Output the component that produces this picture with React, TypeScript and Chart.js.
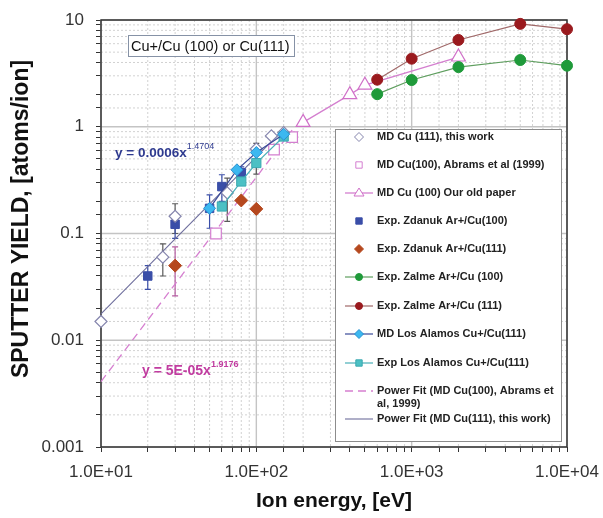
import React, { useEffect, useRef } from 'react';
import { Chart, registerables } from 'chart.js';

Chart.register(...registerables);

const FONT = "'Liberation Sans', Arial, Helvetica, sans-serif";

// ---- axis ticks ----
const xTickValues = [10, 100, 1000, 10000];
const xTickLabels = ['1.0E+01', '1.0E+02', '1.0E+03', '1.0E+04'];
const yTickValues = [0.001, 0.01, 0.1, 1, 10];
const yTickLabels = ['0.001', '0.01', '0.1', '1', '10'];

// ---- series ----
const md111E = [10, 25, 30, 65, 100, 125, 150];
const md111Y = [0.015, 0.06, 0.145, 0.24, 0.62, 0.82, 0.88];
const md111Lo = [null, 0.04, 0.1, 0.13, 0.36, null, null];
const md111Hi = [null, 0.08, 0.19, 0.33, 0.7, null, null];

const abramsE = [55, 130, 170];
const abramsY = [0.1, 0.61, 0.8];

const oldPaperE = [200, 400, 500, 2000];
const oldPaperY = [1.1, 2.0, 2.45, 4.5];

const zd100E = [20, 30, 50, 60, 80];
const zd100Y = [0.04, 0.122, 0.172, 0.275, 0.37];
const zd100Lo = [0.03, 0.09, 0.112, 0.2, 0.33];
const zd100Hi = [0.05, 0.15, 0.23, 0.355, 0.42];

const zd111E = [30, 80, 100];
const zd111Y = [0.05, 0.204, 0.17];
const zd111Lo = [0.026, null, null];
const zd111Hi = [0.075, null, null];

const zalme100E = [600, 1000, 2000, 5000, 10000];
const zalme100Y = [2.02, 2.74, 3.62, 4.22, 3.73];

const zalme111E = [600, 1000, 2000, 5000, 10000];
const zalme111Y = [2.76, 4.34, 6.5, 9.2, 8.2];

const mdLosAlamosE = [50, 75, 100, 150];
const mdLosAlamosY = [0.172, 0.395, 0.574, 0.85];

const expLosAlamosE = [60, 80, 100, 150];
const expLosAlamosY = [0.179, 0.307, 0.457, 0.81];

const fitAbramsE = [10, 170];
const fitAbramsY = [0.0041, 0.93];

const fit111E = [10, 150];
const fit111Y = [0.0177, 0.95];

const seriesLabels = [
  'MD Cu (111), this work',
  'MD Cu(100), Abrams et al (1999)',
  'MD Cu (100) Our old paper',
  'Exp. Zdanuk Ar+/Cu(100)',
  'Exp. Zdanuk Ar+/Cu(111)',
  'Exp. Zalme Ar+/Cu (100)',
  'Exp. Zalme Ar+/Cu (111)',
  'MD Los Alamos Cu+/Cu(111)',
  'Exp Los Alamos Cu+/Cu(111)',
  'Power Fit (MD Cu(100), Abrams et al, 1999)',
  'Power Fit (MD Cu(111), this work)',
];

const yAxisTitle = 'SPUTTER YIELD, [atoms/ion]';
const xAxisTitle = 'Ion energy, [eV]';
const annotationText = 'Cu+/Cu (100) or Cu(111)';
const eq111Text = 'y = 0.0006x';
const eq111Exp = '1.4704';
const eqAbramsText = 'y = 5E-05x';
const eqAbramsExp = '1.9176';

const pts = (xs: number[], ys: number[]) => xs.map((x, i) => ({ x, y: ys[i] }));

const isDecade = (v: number) => Math.abs(Math.log10(v) - Math.round(Math.log10(v))) < 1e-6;

function drawMarker(
  ctx: CanvasRenderingContext2D,
  style: string,
  x: number,
  y: number,
  r: number,
  fill: string,
  stroke: string,
  lw: number
) {
  ctx.save();
  ctx.beginPath();
  if (style === 'circle') {
    ctx.arc(x, y, r, 0, Math.PI * 2);
  } else if (style === 'rect') {
    const s = r * Math.SQRT1_2;
    ctx.rect(x - s, y - s, 2 * s, 2 * s);
  } else if (style === 'rectRot') {
    ctx.moveTo(x - r, y);
    ctx.lineTo(x, y - r);
    ctx.lineTo(x + r, y);
    ctx.lineTo(x, y + r);
    ctx.closePath();
  } else if (style === 'triangle') {
    ctx.moveTo(x, y - r);
    ctx.lineTo(x + r, y + r * 0.6);
    ctx.lineTo(x - r, y + r * 0.6);
    ctx.closePath();
  }
  ctx.fillStyle = fill;
  ctx.fill();
  ctx.lineWidth = lw;
  ctx.strokeStyle = stroke;
  ctx.stroke();
  ctx.restore();
}

const errorSets = [
  { ds: 0, lo: md111Lo, hi: md111Hi, color: '#5a5a5a' },
  { ds: 3, lo: zd100Lo, hi: zd100Hi, color: '#3a4ea8' },
  { ds: 4, lo: zd111Lo, hi: zd111Hi, color: '#b45aa0' },
];

const legendRows = [137, 165, 193, 221, 249, 277, 306, 334, 363, 391, 419];

const customPlugin = {
  id: 'customDecor',
  beforeDatasetsDraw(chart: any) {
    const { ctx, chartArea: a, scales } = chart;
    const xs = scales.x;
    const ys = scales.y;
    ctx.save();
    // grid
    xs.ticks.forEach((t: any) => {
      const px = xs.getPixelForValue(t.value);
      ctx.beginPath();
      if (isDecade(t.value)) {
        ctx.setLineDash([]);
        ctx.strokeStyle = '#c4c4c4';
        ctx.lineWidth = 1.4;
      } else {
        ctx.setLineDash([2, 2]);
        ctx.strokeStyle = '#d2d2d2';
        ctx.lineWidth = 1;
      }
      ctx.moveTo(px, a.top);
      ctx.lineTo(px, a.bottom);
      ctx.stroke();
    });
    ys.ticks.forEach((t: any) => {
      const py = ys.getPixelForValue(t.value);
      ctx.beginPath();
      if (isDecade(t.value)) {
        ctx.setLineDash([]);
        ctx.strokeStyle = '#c4c4c4';
        ctx.lineWidth = 1.4;
      } else {
        ctx.setLineDash([2, 2]);
        ctx.strokeStyle = '#d2d2d2';
        ctx.lineWidth = 1;
      }
      ctx.moveTo(a.left, py);
      ctx.lineTo(a.right, py);
      ctx.stroke();
    });
    ctx.setLineDash([]);
    // plot border
    ctx.strokeStyle = '#333';
    ctx.lineWidth = 1.5;
    ctx.strokeRect(a.left, a.top, a.right - a.left, a.bottom - a.top);
    // error bars
    errorSets.forEach((es) => {
      const data = chart.data.datasets[es.ds].data;
      ctx.strokeStyle = es.color;
      ctx.lineWidth = 1.2;
      data.forEach((p: any, i: number) => {
        const lo = es.lo[i];
        const hi = es.hi[i];
        if (lo == null || hi == null) return;
        const px = xs.getPixelForValue(p.x);
        const pl = ys.getPixelForValue(lo);
        const ph = ys.getPixelForValue(hi);
        ctx.beginPath();
        ctx.moveTo(px, pl);
        ctx.lineTo(px, ph);
        ctx.moveTo(px - 3, pl);
        ctx.lineTo(px + 3, pl);
        ctx.moveTo(px - 3, ph);
        ctx.lineTo(px + 3, ph);
        ctx.stroke();
      });
    });
    ctx.restore();
  },
  afterDatasetsDraw(chart: any) {
    const { ctx } = chart;
    ctx.save();
    // y axis title
    ctx.save();
    ctx.translate(22, 219);
    ctx.rotate(-Math.PI / 2);
    ctx.fillStyle = '#111';
    ctx.font = `bold 23px ${FONT}`;
    ctx.textAlign = 'center';
    ctx.textBaseline = 'middle';
    ctx.fillText(yAxisTitle, 0, 0);
    ctx.restore();

    // annotation box
    ctx.fillStyle = '#fff';
    ctx.fillRect(128, 35, 166, 21);
    ctx.strokeStyle = '#8692a6';
    ctx.lineWidth = 1;
    ctx.strokeRect(128.5, 35.5, 166, 21);
    ctx.fillStyle = '#111';
    ctx.font = `14.5px ${FONT}`;
    ctx.textBaseline = 'middle';
    ctx.textAlign = 'left';
    ctx.fillText(annotationText, 131, 46.5);

    // equations
    ctx.textBaseline = 'alphabetic';
    ctx.fillStyle = '#2e3a8f';
    ctx.font = `bold 13.5px ${FONT}`;
    ctx.fillText(eq111Text, 115, 157);
    let w = ctx.measureText(eq111Text).width;
    ctx.font = `9px ${FONT}`;
    ctx.fillText(eq111Exp, 115 + w, 149);

    ctx.fillStyle = '#c13ca0';
    ctx.font = `bold 14px ${FONT}`;
    ctx.fillText(eqAbramsText, 142, 375);
    w = ctx.measureText(eqAbramsText).width;
    ctx.font = `bold 9px ${FONT}`;
    ctx.fillText(eqAbramsExp, 142 + w, 367);

    // legend
    ctx.fillStyle = '#fff';
    ctx.fillRect(335, 129, 226, 312);
    ctx.strokeStyle = '#8c8c8c';
    ctx.lineWidth = 1;
    ctx.strokeRect(335.5, 129.5, 226, 312);
    ctx.font = `bold 11px ${FONT}`;
    ctx.textBaseline = 'middle';
    chart.data.datasets.forEach((ds: any, i: number) => {
      const y = legendRows[i];
      if (ds.showLine) {
        ctx.save();
        ctx.beginPath();
        ctx.setLineDash(ds.borderDash || []);
        ctx.strokeStyle = ds.borderColor;
        ctx.lineWidth = ds.borderWidth;
        ctx.moveTo(345, y);
        ctx.lineTo(373, y);
        ctx.stroke();
        ctx.restore();
      }
      if (ds.pointRadius > 0) {
        drawMarker(
          ctx,
          ds.pointStyle,
          359,
          y,
          ds.pointStyle === 'triangle' ? 5 : ds.pointStyle === 'circle' ? 3.5 : 4.5,
          ds.pointBackgroundColor,
          ds.pointBorderColor,
          1
        );
      }
      ctx.fillStyle = '#222';
      const label: string = ds.label;
      if (i === 9) {
        ctx.fillText('Power Fit (MD Cu(100), Abrams et', 377, y);
        ctx.fillText('al, 1999)', 377, y + 13);
      } else {
        ctx.fillText(label, 377, y);
      }
    });
    ctx.restore();
  },
};

export default function App() {
  const canvasRef = useRef<HTMLCanvasElement | null>(null);

  useEffect(() => {
    document.body.style.margin = '0';
    const canvas = canvasRef.current;
    if (!canvas) return;

    const base = { clip: false as any, showLine: false };
    const datasets: any[] = [
      {
        ...base,
        label: seriesLabels[0],
        data: pts(md111E, md111Y),
        pointStyle: 'rectRot',
        pointRadius: 6,
        pointBackgroundColor: '#ffffff',
        pointBorderColor: '#8585ad',
        pointBorderWidth: 1.2,
        borderColor: '#8585ad',
        order: 1,
      },
      {
        ...base,
        label: seriesLabels[1],
        data: pts(abramsE, abramsY),
        pointStyle: 'rect',
        pointRadius: 7.5,
        pointBackgroundColor: '#ffffff',
        pointBorderColor: '#d47fd0',
        pointBorderWidth: 1.2,
        borderColor: '#d47fd0',
        order: 2,
      },
      {
        ...base,
        label: seriesLabels[2],
        data: pts(oldPaperE, oldPaperY),
        showLine: true,
        borderColor: '#d47fcf',
        borderWidth: 1.3,
        pointStyle: 'triangle',
        pointRadius: 8,
        pointBackgroundColor: '#ffffff',
        pointBorderColor: '#d070c8',
        pointBorderWidth: 1.2,
        order: 3,
      },
      {
        ...base,
        label: seriesLabels[3],
        data: pts(zd100E, zd100Y),
        pointStyle: 'rect',
        pointRadius: 6,
        pointBackgroundColor: '#3a4ea8',
        pointBorderColor: '#3a4ea8',
        pointBorderWidth: 1,
        borderColor: '#3a4ea8',
        order: 1,
      },
      {
        ...base,
        label: seriesLabels[4],
        data: pts(zd111E, zd111Y),
        pointStyle: 'rectRot',
        pointRadius: 6.5,
        pointBackgroundColor: '#b5481e',
        pointBorderColor: '#b5481e',
        pointBorderWidth: 1,
        borderColor: '#b5481e',
        order: 1,
      },
      {
        ...base,
        label: seriesLabels[5],
        data: pts(zalme100E, zalme100Y),
        showLine: true,
        borderColor: '#5e9e5e',
        borderWidth: 1.2,
        pointStyle: 'circle',
        pointRadius: 5.5,
        pointBackgroundColor: '#1f9a3a',
        pointBorderColor: '#1f9a3a',
        pointBorderWidth: 1,
        order: 1,
      },
      {
        ...base,
        label: seriesLabels[6],
        data: pts(zalme111E, zalme111Y),
        showLine: true,
        borderColor: '#a06868',
        borderWidth: 1.2,
        pointStyle: 'circle',
        pointRadius: 5.5,
        pointBackgroundColor: '#9a1a1e',
        pointBorderColor: '#9a1a1e',
        pointBorderWidth: 1,
        order: 1,
      },
      {
        ...base,
        label: seriesLabels[7],
        data: pts(mdLosAlamosE, mdLosAlamosY),
        showLine: true,
        borderColor: '#3a4a98',
        borderWidth: 1.2,
        pointStyle: 'rectRot',
        pointRadius: 6,
        pointBackgroundColor: '#3cb8f0',
        pointBorderColor: '#2a90d0',
        pointBorderWidth: 1,
        order: 0,
      },
      {
        ...base,
        label: seriesLabels[8],
        data: pts(expLosAlamosE, expLosAlamosY),
        showLine: true,
        borderColor: '#4ab0b8',
        borderWidth: 1.2,
        pointStyle: 'rect',
        pointRadius: 6.5,
        pointBackgroundColor: '#4cc0c4',
        pointBorderColor: '#3aa8b0',
        pointBorderWidth: 1,
        order: 0,
      },
      {
        ...base,
        label: seriesLabels[9],
        data: pts(fitAbramsE, fitAbramsY),
        showLine: true,
        borderColor: '#d67fd0',
        borderWidth: 1.3,
        borderDash: [8, 5],
        pointRadius: 0,
        pointStyle: 'circle',
        order: 5,
      },
      {
        ...base,
        label: seriesLabels[10],
        data: pts(fit111E, fit111Y),
        showLine: true,
        borderColor: '#6d6d9c',
        borderWidth: 1.1,
        pointRadius: 0,
        pointStyle: 'circle',
        order: 5,
      },
    ];

    const chart = new Chart(canvas, {
      type: 'scatter',
      data: { datasets },
      plugins: [customPlugin],
      options: {
        animation: false,
        responsive: true,
        maintainAspectRatio: false,
        layout: { padding: { left: 0, right: 36, top: 20, bottom: 0 } },
        plugins: {
          legend: { display: false },
          tooltip: { enabled: false },
          title: { display: false },
        },
        scales: {
          x: {
            type: 'logarithmic',
            position: 'bottom',
            min: 10,
            max: 10000,
            afterFit: (s: any) => {
              s.height = 71;
              s.paddingLeft = 0;
              s.paddingRight = 0;
            },
            border: { display: false },
            grid: {
              drawOnChartArea: false,
              drawTicks: true,
              tickLength: 5,
              tickColor: '#333',
            },
            ticks: {
              autoSkip: false,
              maxRotation: 0,
              minRotation: 0,
              padding: 10,
              color: '#333',
              font: { family: FONT, size: 17 },
              callback: (v: any) => {
                const idx = xTickValues.findIndex((t) => Math.abs(t - v) / t < 1e-6);
                return idx >= 0 ? xTickLabels[idx] : '';
              },
            },
            title: {
              display: true,
              text: xAxisTitle,
              color: '#111',
              font: { family: FONT, size: 21, weight: 'bold' },
              padding: 4,
            },
          },
          y: {
            type: 'logarithmic',
            min: 0.001,
            max: 10,
            afterFit: (s: any) => {
              s.width = 101;
              s.paddingTop = 0;
              s.paddingBottom = 0;
            },
            border: { display: false },
            grid: {
              drawOnChartArea: false,
              drawTicks: true,
              tickLength: 5,
              tickColor: '#333',
            },
            ticks: {
              autoSkip: false,
              padding: 12,
              color: '#333',
              font: { family: FONT, size: 17 },
              callback: (v: any) => {
                const idx = yTickValues.findIndex((t) => Math.abs(t - v) / t < 1e-6);
                return idx >= 0 ? yTickLabels[idx] : '';
              },
            },
            title: { display: false },
          },
        },
      } as any,
    });

    return () => {
      chart.destroy();
    };
  }, []);

  return (
    <div style={{ position: 'relative', width: 603, height: 518, background: '#fff' }}>
      <canvas ref={canvasRef} />
    </div>
  );
}
